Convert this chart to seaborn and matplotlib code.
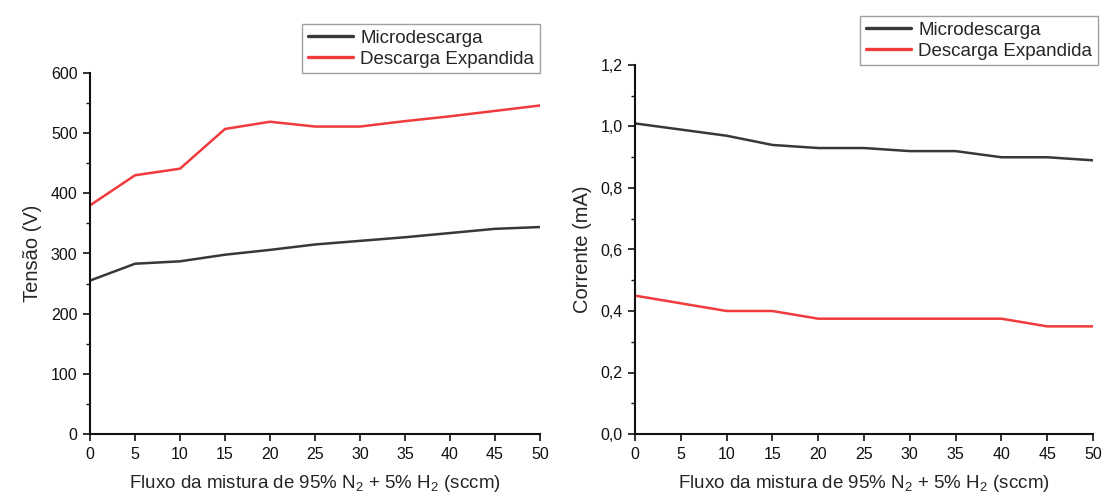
import numpy as np
import pandas as pd
import matplotlib
matplotlib.use("Agg")
import matplotlib.pyplot as plt
import seaborn as sns
from matplotlib.ticker import MultipleLocator, FuncFormatter

fluxo = [0, 5, 10, 15, 20, 25, 30, 35, 40, 45, 50]
tensao_micro = [255, 283, 287, 298, 306, 315, 321, 327, 334, 341, 344]
tensao_exp = [380, 430, 441, 507, 519, 511, 511, 520, 528, 537, 546]
corrente_micro = [1.01, 0.99, 0.97, 0.94, 0.93, 0.93, 0.92, 0.92, 0.90, 0.90, 0.89]
corrente_exp = [0.45, 0.425, 0.40, 0.40, 0.375, 0.375, 0.375, 0.375, 0.375, 0.35, 0.35]
series_names = ["Microdescarga", "Descarga Expandida"]

sns.set_theme(style="ticks")
plt.rcParams['font.family'] = ['Liberation Sans', 'DejaVu Sans']
plt.rcParams['mathtext.fontset'] = 'custom'
plt.rcParams['mathtext.rm'] = 'Liberation Sans'

colors = {"Microdescarga": "#383838", "Descarga Expandida": "#f03a3c"}

df_t = pd.DataFrame({"x": fluxo * 2, "y": tensao_micro + tensao_exp,
                     "s": [series_names[0]] * len(fluxo) + [series_names[1]] * len(fluxo)})
df_c = pd.DataFrame({"x": fluxo * 2, "y": corrente_micro + corrente_exp,
                     "s": [series_names[0]] * len(fluxo) + [series_names[1]] * len(fluxo)})

fig = plt.figure(figsize=(11.06, 4.94), dpi=100)
W, H = 1106, 494
ax1 = fig.add_axes([90 / W, (H - 434) / H, 450 / W, 361 / H])
ax2 = fig.add_axes([635 / W, (H - 434) / H, 458 / W, 369 / H])

xlabel = r"Fluxo da mistura de 95% N$_2$ + 5% H$_2$ (sccm)"

for ax, df, ylab, ylim, major, minor, leg_anchor in [
    (ax1, df_t, "Tensão (V)", (0, 600), 100, 50, (1.0, 1.136)),
    (ax2, df_c, "Corrente (mA)", (0, 1.2), 0.2, 0.1, (1.011, 1.133)),
]:
    sns.lineplot(data=df, x="x", y="y", hue="s", palette=colors, ax=ax,
                 linewidth=1.8, legend=True)
    ax.set_xlim(0, 50)
    ax.set_ylim(*ylim)
    ax.xaxis.set_major_locator(MultipleLocator(5))
    ax.yaxis.set_major_locator(MultipleLocator(major))
    ax.yaxis.set_minor_locator(MultipleLocator(minor))
    for side in ["top", "right"]:
        ax.spines[side].set_visible(False)
    for side in ["left", "bottom"]:
        ax.spines[side].set_linewidth(1.5)
        ax.spines[side].set_color("#111111")
    ax.tick_params(which="major", direction="out", length=5, width=1.2,
                   labelsize=11.5, colors="#111111", pad=4)
    ax.tick_params(which="minor", direction="out", length=3, width=1.0, colors="#111111")
    ax.set_xlabel(xlabel, fontsize=13.5, labelpad=8)
    ax.set_ylabel(ylab, fontsize=14.5, labelpad=6)
    handles, labels = ax.get_legend_handles_labels()
    leg = ax.legend(handles, labels, loc="upper right", bbox_to_anchor=leg_anchor,
                    frameon=True, fancybox=False, fontsize=13.5, handlelength=2.4,
                    borderpad=0.3, labelspacing=0.2, handletextpad=0.4,
                    borderaxespad=0)
    leg.get_frame().set_edgecolor("#888888")
    leg.get_frame().set_linewidth(1.0)
    for line in leg.get_lines():
        line.set_linewidth(2.4)

ax2.yaxis.set_major_formatter(FuncFormatter(lambda v, p: f"{v:.1f}".replace(".", ",")))

fig.savefig("out.png", dpi=100, facecolor="white")
